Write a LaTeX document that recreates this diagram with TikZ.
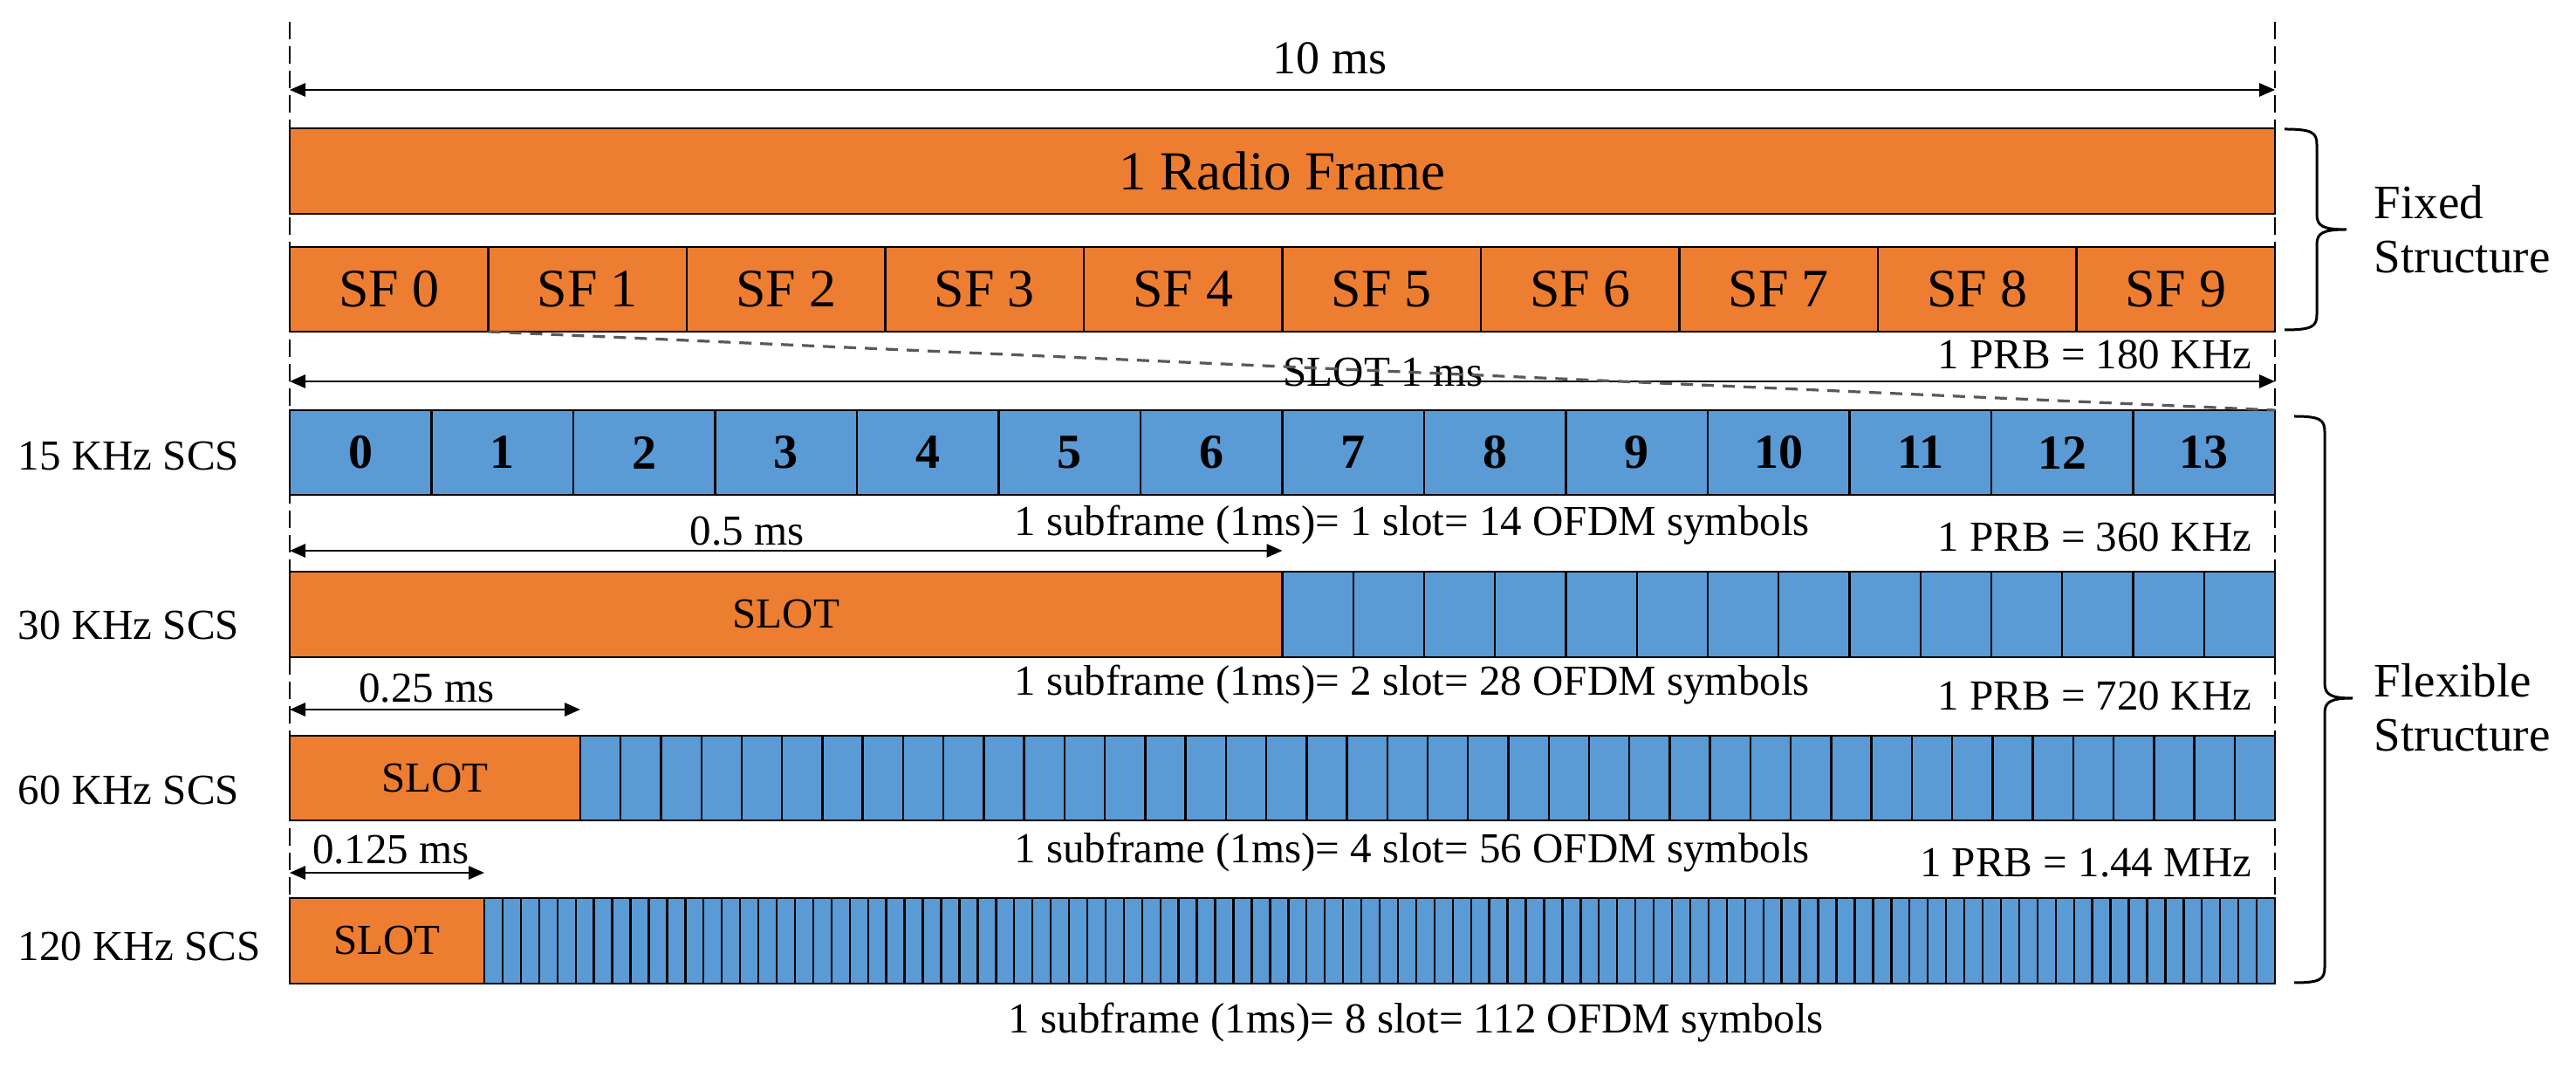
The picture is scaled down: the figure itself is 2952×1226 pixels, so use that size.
\documentclass[tikz,border=0pt]{standalone}
\usepackage{fontspec}
\setmainfont{Liberation Serif}
\usetikzlibrary{arrows.meta}
\definecolor{orng}{HTML}{ED7D31}
\definecolor{blu}{HTML}{5B9BD5}
\begin{document}
\begin{tikzpicture}[x=0.25pt,y=-0.25pt,
  cell/.style={draw=black, line width=0.7pt, anchor=north west, inner sep=0pt, outer sep=0pt},
  ocell/.style={cell, fill=orng},
  bcell/.style={cell, fill=blu},
  sym/.style={draw=black, line width=0.6pt, fill=blu},
  vguide/.style={draw=black, line width=0.6pt, dash pattern=on 5pt off 2pt},
  slant/.style={draw=black!65, line width=0.8pt, dash pattern=on 3.5pt off 2.5pt},
  dim/.style={line width=0.55pt, {Triangle[length=4.5pt,width=3.8pt]}-{Triangle[length=4.5pt,width=3.8pt]}},
  lbl/.style={font=\fontsize{12.25}{14}\selectfont, inner sep=0pt},
  bigl/.style={font=\fontsize{13.75}{15.5}\selectfont, inner sep=0pt, align=left, anchor=west},
  brace/.style={draw=black, line width=0.75pt},
]
\useasboundingbox (0,0) rectangle (2952,1226);

% vertical guides
\coordinate (gLt) at (332,25); \coordinate (gLb) at (332,1127);
\coordinate (gRt) at (2607,25); \coordinate (gRb) at (2607,1127);
\draw[vguide] (gLt) -- (gLb);
\draw[vguide] (gRt) -- (gRb);

% 10 ms
\coordinate (a10L) at (332,103); \coordinate (a10R) at (2607,103);
\draw[dim] (a10L) -- (a10R);
\node[font=\fontsize{13.5}{16}\selectfont, anchor=base, inner sep=0pt] (t10) at (1524,85) {10 ms};

% radio frame
\node[ocell, minimum width=568.75pt, minimum height=24.5pt, font=\fontsize{15.75}{18}\selectfont] (rf) at (332,147) {1 Radio Frame};

% subframes
\foreach \i in {0,...,9}{
  \node[ocell, minimum width=56.875pt, minimum height=24.25pt, font=\fontsize{15.5}{18}\selectfont] (sf\i) at ({332+227.5*\i},283) {SF \i};
}

% 15 KHz row
\foreach \i in {0,...,13}{
  \node[bcell, minimum width=40.625pt, minimum height=24.25pt, font=\fontsize{14}{16}\selectfont\bfseries] (d\i) at ({332+162.5*\i},470) {\i};
}
\node[lbl, anchor=base west] (l15) at (20,539) {15 KHz SCS};

% SLOT 1 ms
\node[lbl, anchor=base] (tslot1) at (1585,443) {SLOT 1 ms};
\node[lbl, anchor=base east] (prb180) at (2581,423) {1 PRB = 180 KHz};
\coordinate (a1L) at (332,437); \coordinate (a1R) at (2607,437);
\draw[dim] (a1L) -- (a1R);
\draw[slant] (sf0.south east) -- (d13.north east);

% 0.5 ms
\coordinate (a05L) at (332,631); \coordinate (a05R) at (1469.5,631);
\draw[dim] (a05L) -- (a05R);
\node[lbl, anchor=base] (t05) at (856,625) {0.5 ms};
\node[lbl, anchor=base] (sub15) at (1618,614) {1 subframe (1ms)= 1 slot= 14 OFDM symbols};
\node[lbl, anchor=base east] (prb360) at (2581,632) {1 PRB = 360 KHz};

% 30 KHz row
\node[ocell, lbl, minimum width=284.375pt, minimum height=24.5pt] (s30) at (332,655) {SLOT};
\foreach \i in {0,...,13} \draw[sym] ({1469.5+81.25*\i},655) rectangle ++(81.25,98);
\node[lbl, anchor=base west] (l30) at (20,733) {30 KHz SCS};

% 0.25 ms
\coordinate (a025L) at (332,813); \coordinate (a025R) at (665,813);
\draw[dim] (a025L) -- (a025R);
\node[lbl, anchor=base] (t025) at (489,805) {0.25 ms};
\node[lbl, anchor=base] (sub30) at (1618,797) {1 subframe (1ms)= 2 slot= 28 OFDM symbols};
\node[lbl, anchor=base east] (prb720) at (2581,814) {1 PRB = 720 KHz};

% 60 KHz row
\node[ocell, lbl, minimum width=83.25pt, minimum height=24.25pt] (s60) at (332,843) {SLOT};
\foreach \i in {0,...,41} \draw[sym] ({665+46.2381*\i},843) rectangle ++(46.2381,97);
\node[lbl, anchor=base west] (l60) at (20,922) {60 KHz SCS};

% 0.125 ms
\coordinate (a0125L) at (332,1000); \coordinate (a0125R) at (555,1000);
\draw[dim] (a0125L) -- (a0125R);
\node[lbl, anchor=base] (t0125) at (448,990) {0.125 ms};
\node[lbl, anchor=base] (sub60) at (1618,989) {1 subframe (1ms)= 4 slot= 56 OFDM symbols};
\node[lbl, anchor=base east] (prb144) at (2581,1005) {1 PRB = 1.44 MHz};

% 120 KHz row
\node[ocell, lbl, minimum width=55.75pt, minimum height=24.5pt] (s120) at (332,1029) {SLOT};
\foreach \i in {0,...,97} \draw[sym] ({555+20.93878*\i},1029) rectangle ++(20.93878,98);
\node[lbl, anchor=base west] (l120) at (20,1101) {120 KHz SCS};
\node[lbl, anchor=base] (sub120) at (1623,1183) {1 subframe (1ms)= 8 slot= 112 OFDM symbols};

% braces
\draw[brace] (2618,148) .. controls (2650,148) and (2655,152) .. (2655,166) -- (2655,246)
  .. controls (2655,259) and (2662,263) .. (2689,263)
  .. controls (2662,263) and (2655,267) .. (2655,280) -- (2655,360)
  .. controls (2655,374) and (2650,378) .. (2618,378);
\draw[brace] (2629,477) .. controls (2659,477) and (2664,481) .. (2664,495) -- (2664,783)
  .. controls (2664,796) and (2671,800) .. (2696,800)
  .. controls (2671,800) and (2664,804) .. (2664,817) -- (2664,1108)
  .. controls (2664,1122) and (2659,1126) .. (2629,1126);
\node[bigl] (fixed) at (2720,263) {Fixed\\Structure};
\node[bigl] (flex) at (2720,811) {Flexible\\Structure};
\end{tikzpicture}
\end{document}
